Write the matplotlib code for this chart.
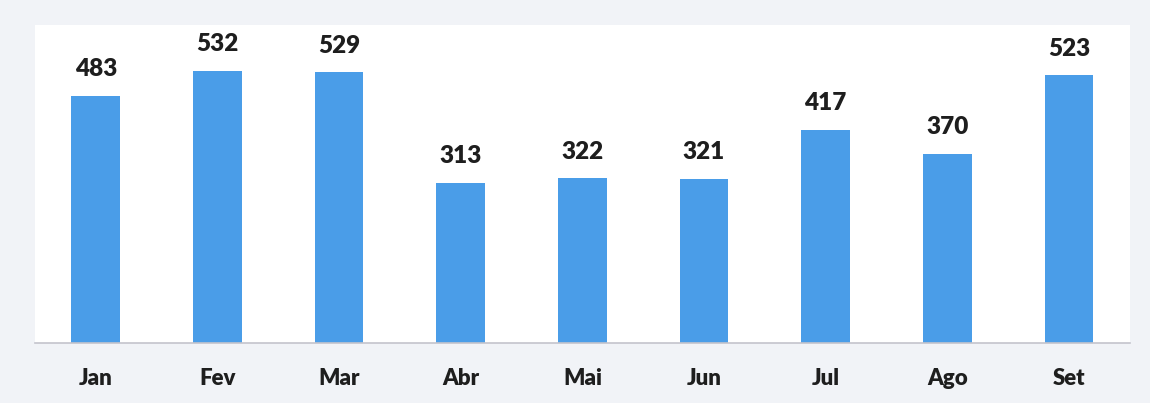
import matplotlib
matplotlib.use("Agg")
import matplotlib.pyplot as plt

meses = ["Jan", "Fev", "Mar", "Abr", "Mai", "Jun", "Jul", "Ago", "Set"]
valores = [483, 532, 529, 313, 322, 321, 417, 370, 523]

cor_barra = "#4a9de8"
cor_texto = "#1e1e1e"

plt.rcParams["font.family"] = ["Lato", "DejaVu Sans"]

fig = plt.figure(figsize=(11.5, 4.03), dpi=100, facecolor="#f1f3f7")
ax = fig.add_axes([0.0304, 0.149, 0.952, 0.79])
ax.set_facecolor("white")

x = range(len(meses))
barras = ax.bar(x, valores, width=0.4, color=cor_barra, zorder=2)

# rótulos de valor acima de cada barra
for xi, v in zip(x, valores):
    ax.annotate(str(v), (xi, v), xytext=(0, 11), textcoords="offset points",
                ha="center", va="bottom", fontsize=17.5, fontweight="heavy",
                color=cor_texto)

ax.set_xlim(-0.5, len(meses) - 0.5)
ax.set_ylim(0, 622)
ax.set_xticks(list(x))
ax.set_xticklabels(meses, fontsize=16, fontweight="heavy", color=cor_texto)
ax.tick_params(axis="x", length=0, pad=18)
ax.set_yticks([])

for lado in ["top", "left", "right"]:
    ax.spines[lado].set_visible(False)
ax.spines["bottom"].set_color("#c4c4cc")
ax.spines["bottom"].set_linewidth(1.2)

fig.savefig("out.png", dpi=100, facecolor=fig.get_facecolor())
